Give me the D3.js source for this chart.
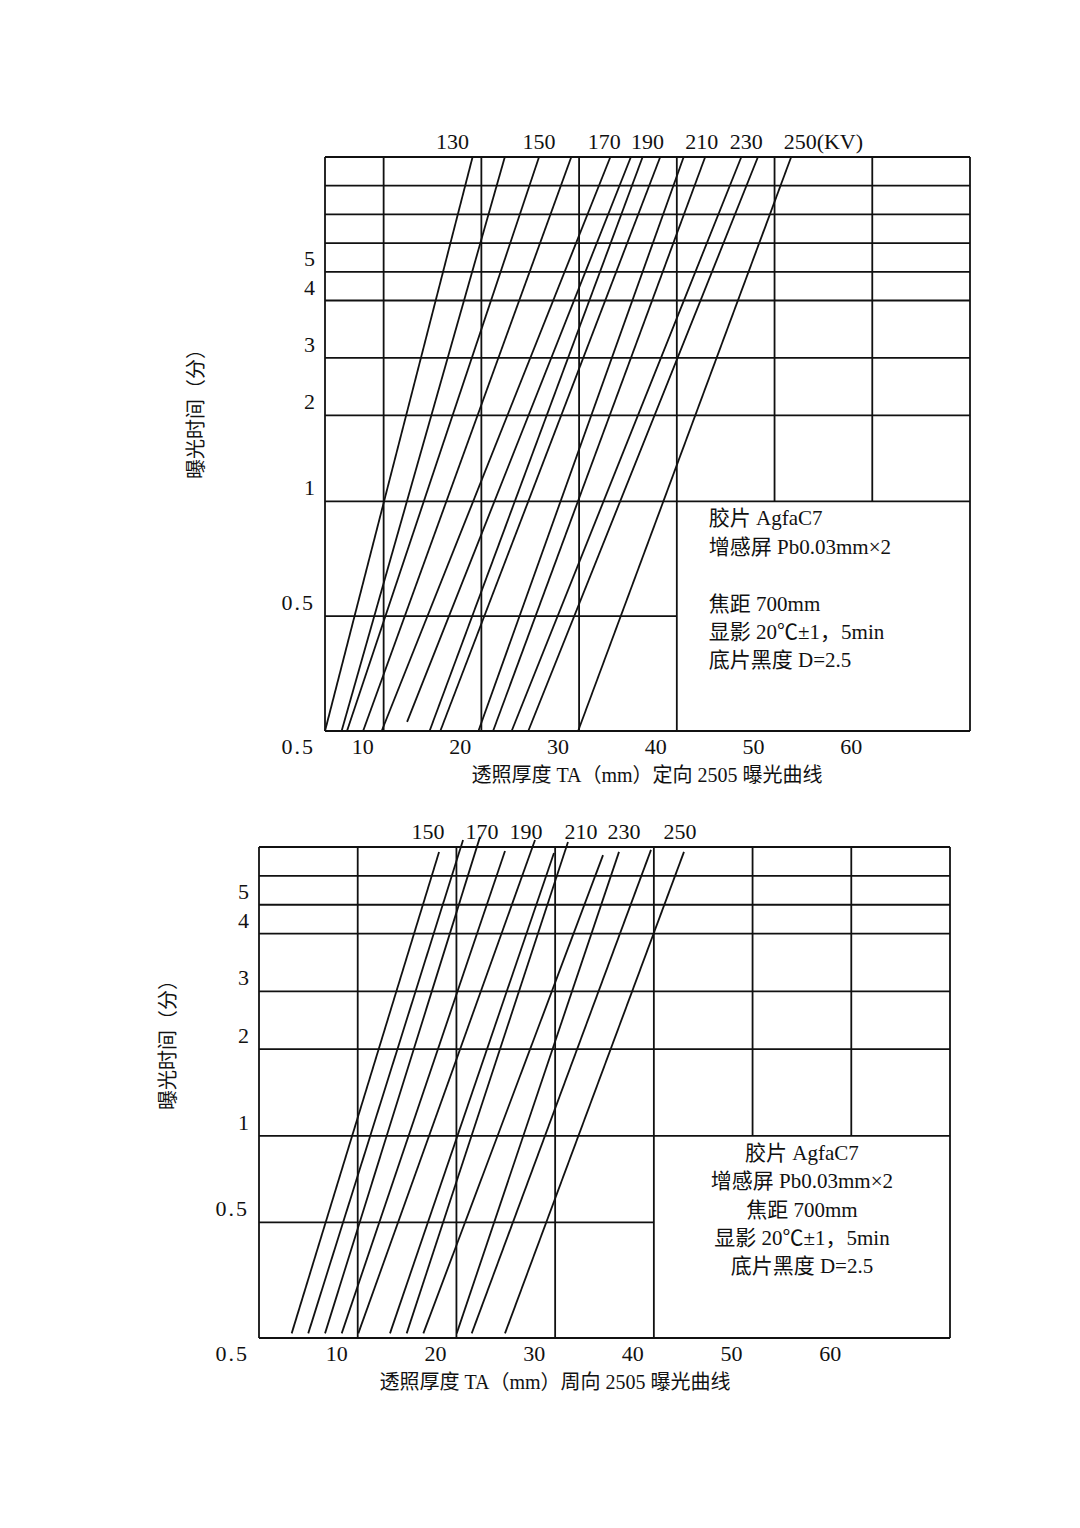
<!DOCTYPE html>
<html>
<head>
  <meta charset="utf-8">
  <title>2505 曝光曲线</title>
  <script src="https://cdn.jsdelivr.net/npm/d3@7/dist/d3.min.js"></script>
  <style>
    body { margin: 0; background: #fff; }
    text { font-family: "Liberation Serif", "Noto Sans CJK SC", serif; fill: #111; }
  </style>
</head>
<body>
  <svg width="1080" height="1528"></svg>
  <script>
    // ---- data: top chart (定向) ----
    const topKv = [130, 140, 150, 160, 170, 180, 190, 200, 210, 220, 230, 240, 250];
    const topLabelKv = [130, 150, 170, 190, 210, 230, 250];
    // thickness (mm) / time (min) at upper and lower end of each line
    const topThickHi = [19.1, 22.4, 25.9, 29.2, 33.2, 35.3, 36.5, 38.3, 40.7, 42.9, 46.6, 48.3, 51.7];
    const topTimeHi  = [9, 9, 9, 9, 9, 9, 9, 9, 9, 9, 9, 9, 9];
    const topThickLo = [4.0, 5.7, 6.25, 7.9, 9.8, 12.4, 14.7, 15.8, 19.7, 21.2, 23.1, 24.8, 29.9];
    const topTimeLo  = [0.25, 0.25, 0.25, 0.25, 0.25, 0.27, 0.25, 0.25, 0.25, 0.25, 0.25, 0.25, 0.25];
    const topTimeGrid = [9, 8, 7, 6, 5, 4, 3, 2, 1, 0.5, 0.25];
    const topGridRows = [0, 1, 2, 3, 4, 5, 7, 9, 12, 16, 20];
    const topThickDomain = [4, 70];
    const topLegend = ['胶片 AgfaC7', '增感屏 Pb0.03mm×2', '', '焦距 700mm', '显影 20℃±1，5min', '底片黑度 D=2.5'];

    // ---- data: bottom chart (周向) ----
    const botKv = [150, 160, 170, 180, 190, 200, 210, 220, 230, 240, 250];
    const botLabelKv = [150, 170, 190, 210, 230, 250];
    const botThickHi = [18.24, 20.67, 22.39, 24.92, 27.96, 29.88, 31.3, 34.85, 36.47, 39.71, 43.05];
    const botTimeHi  = [6.83, 7.24, 7.35, 6.86, 7.24, 6.79, 7.17, 6.72, 6.83, 6.9, 6.83];
    const botThickLo = [3.31, 4.99, 6.69, 8.38, 10.06, 13.27, 14.96, 16.65, 20.03, 21.55, 24.92];
    const botTimeLo  = [0.26, 0.26, 0.26, 0.26, 0.26, 0.26, 0.26, 0.26, 0.26, 0.26, 0.26];
    const botTimeGrid = [7, 6, 5, 4, 3, 2, 1, 0.5, 0.25];
    const botGridRows = [0, 1, 2, 3, 5, 7, 10, 13, 17];
    const botThickDomain = [0, 70];
    const botLegend = ['胶片 AgfaC7', '增感屏 Pb0.03mm×2', '焦距 700mm', '显影 20℃±1，5min', '底片黑度 D=2.5'];

    // shared axis labels
    const thickTicks = [10, 20, 30, 40, 50, 60];
    const timeLabels = [5, 4, 3, 2, 1, 0.5];
    const cornerLabel = '0.5';
    const yTitle = '曝光时间（分）';

    const svg = d3.select('svg');
    const ink = '#111';
    const sw = 1.8;
    const numSize = '22px';

    function drawChart(c) {
      const g = svg.append('g');
      const x = d3.scaleLinear().domain(c.thickDomain).range([c.left, c.right]);
      // hand drawn time axis: time -> grid row -> pixel
      const row = d3.scaleLinear().domain(c.timeGrid).range(c.gridRows);
      const rowY = d3.scaleLinear().domain([0, d3.max(c.gridRows)]).range([c.top, c.bottom]);
      const y = t => rowY(row(t));
      const tMin = d3.min(c.timeGrid), tMax = d3.max(c.timeGrid);
      const splitX = 40, splitT = 1; // legend area: thickness >= 40, time <= 1

      // horizontal grid lines
      g.selectAll('.hgrid')
        .data(c.timeGrid)
        .enter()
        .append('line')
        .attr('x1', x(c.thickDomain[0]))
        .attr('x2', d => (d < splitT && d > tMin) ? x(splitX) : x(c.thickDomain[1]))
        .attr('y1', d => y(d))
        .attr('y2', d => y(d))
        .attr('stroke', ink)
        .attr('stroke-width', sw);

      // vertical grid lines
      g.selectAll('.vgrid')
        .data(c.thickDomain.concat(thickTicks))
        .enter()
        .append('line')
        .attr('x1', d => x(d))
        .attr('x2', d => x(d))
        .attr('y1', y(tMax))
        .attr('y2', d => (d > splitX && d < c.thickDomain[1]) ? y(splitT) : y(tMin))
        .attr('stroke', ink)
        .attr('stroke-width', sw);

      // exposure lines
      const lines = c.kv.map((kv, i) => ({
        kv,
        x1: c.thickHi[i], t1: c.timeHi[i],
        x2: c.thickLo[i], t2: c.timeLo[i]
      }));
      g.selectAll('.curve')
        .data(lines)
        .enter()
        .append('line')
        .attr('x1', d => x(d.x1))
        .attr('y1', d => y(d.t1))
        .attr('x2', d => x(d.x2))
        .attr('y2', d => y(d.t2))
        .attr('stroke', ink)
        .attr('stroke-width', sw);

      // kV labels above the chart, nudged apart like the drawing
      const labelled = lines.filter(d => c.labelKv.includes(d.kv));
      g.selectAll('.kv')
        .data(labelled)
        .enter()
        .append('text')
        .attr('x', (d, i) => x(d.x1) + c.kvNudge[i])
        .attr('y', c.top - 8)
        .attr('text-anchor', 'middle')
        .style('font-size', numSize)
        .text(d => d.kv)
        .each(function (d, i) {
          if (c.unit && i === labelled.length - 1) {
            const w = this.getComputedTextLength();
            g.append('text')
              .attr('x', x(d.x1) + c.kvNudge[i] + w / 2)
              .attr('y', c.top - 8)
              .style('font-size', numSize)
              .text(c.unit);
          }
        });

      // time labels (sit just above their grid line)
      g.selectAll('.ylab')
        .data(timeLabels)
        .enter()
        .append('text')
        .attr('x', c.left - 10)
        .attr('y', d => y(d) - 6)
        .attr('text-anchor', 'end')
        .style('font-size', numSize)
        .style('letter-spacing', d => d < 1 ? '2px' : null)
        .text(d => d);

      // thickness labels (left of their grid line)
      const xl = [{ v: c.thickDomain[0], s: cornerLabel }].concat(thickTicks.map(v => ({ v, s: String(v) })));
      g.selectAll('.xlab')
        .data(xl)
        .enter()
        .append('text')
        .attr('x', d => x(d.v) - 10)
        .attr('y', c.bottom + 23)
        .attr('text-anchor', 'end')
        .style('font-size', numSize)
        .style('letter-spacing', d => d.s.includes('.') ? '2px' : null)
        .text(d => d.s);

      // axis titles
      g.append('text')
        .attr('transform', `translate(${c.yTitleX},${c.yTitleY}) rotate(-90)`)
        .attr('text-anchor', 'middle')
        .attr('dy', '0.35em')
        .style('font-size', '20px')
        .text(yTitle);

      g.append('text')
        .attr('x', c.xTitleX)
        .attr('y', c.bottom + 51)
        .attr('text-anchor', 'middle')
        .style('font-size', '20px')
        .text(c.xTitle);

      // legend block
      const lx = c.legendCenter ? (x(splitX) + x(c.thickDomain[1])) / 2 : x(splitX) + 32;
      g.selectAll('.legend')
        .data(c.legend)
        .enter()
        .append('text')
        .attr('x', lx)
        .attr('y', (d, i) => y(splitT) + 24 + i * 28.4)
        .attr('text-anchor', c.legendCenter ? 'middle' : 'start')
        .style('font-size', '21px')
        .text(d => d);
    }

    drawChart({
      kv: topKv, labelKv: topLabelKv, unit: '(KV)',
      thickHi: topThickHi, timeHi: topTimeHi, thickLo: topThickLo, timeLo: topTimeLo,
      timeGrid: topTimeGrid, gridRows: topGridRows, thickDomain: topThickDomain,
      legend: topLegend, legendCenter: false,
      left: 325, right: 970, top: 157, bottom: 731,
      kvNudge: [-20, 0, -6, 5, 18, 5, 9],
      yTitleX: 196, yTitleY: 409, xTitleX: 647,
      xTitle: '透照厚度 TA（mm）定向 2505 曝光曲线'
    });

    drawChart({
      kv: botKv, labelKv: botLabelKv, unit: null,
      thickHi: botThickHi, timeHi: botTimeHi, thickLo: botThickLo, timeLo: botTimeLo,
      timeGrid: botTimeGrid, gridRows: botGridRows, thickDomain: botThickDomain,
      legend: botLegend, legendCenter: true,
      left: 259, right: 950, top: 847, bottom: 1338,
      kvNudge: [-11, 2, -9, 13, 5, -4],
      yTitleX: 168, yTitleY: 1040, xTitleX: 555,
      xTitle: '透照厚度 TA（mm）周向 2505 曝光曲线'
    });
  </script>
</body>
</html>
